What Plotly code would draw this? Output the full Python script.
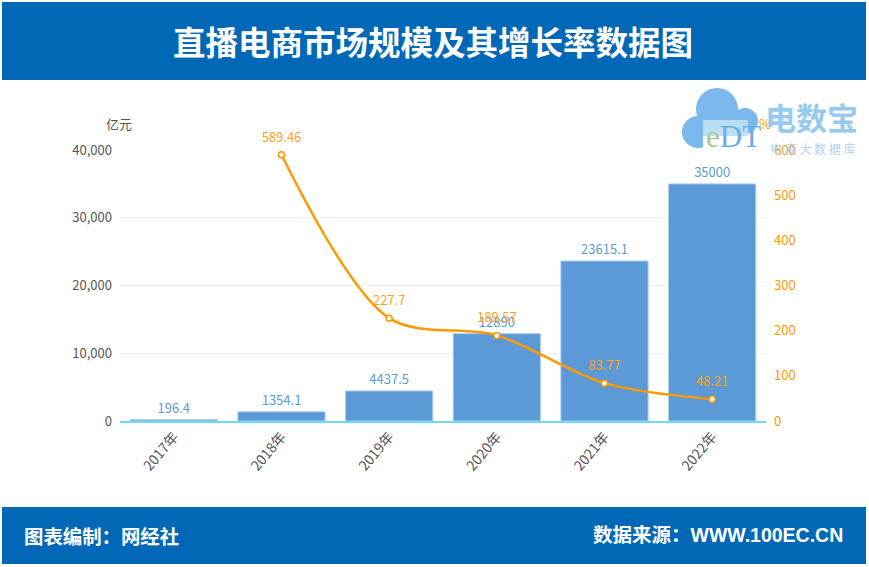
import plotly.graph_objects as go

# Live-streaming e-commerce market size and growth rate
years = ['2017年', '2018年', '2019年', '2020年', '2021年', '2022年']
market_size = [196.4, 1354.1, 4437.5, 12890, 23615.1, 35000]
growth_rate = [None, 589.46, 227.7, 189.57, 83.77, 48.21]
left_ticks = [0, 10000, 20000, 30000, 40000]
right_ticks = [0, 100, 200, 300, 400, 500, 600]

W, H = 869, 567
CJK = 'Noto Sans CJK SC'
HEAD = 'Liberation Sans, Noto Sans CJK SC'


def px(x):
    return x / W


def py(y):
    return 1 - y / H


def rect(x0, y0, x1, y1, color, layer='below'):
    return dict(type='rect', xref='paper', yref='paper', x0=px(x0), x1=px(x1), y0=py(y0), y1=py(y1),
                fillcolor=color, line_width=0, layer=layer)


def circle(cx, cy, r, color, opacity=1):
    return dict(type='circle', xref='paper', yref='paper', x0=px(cx - r), x1=px(cx + r), y0=py(cy + r), y1=py(cy - r),
                fillcolor=color, line_width=0, layer='above', opacity=opacity)


def label(x, y, text, size, color, family=CJK, weight=400, anchor='center', opacity=1):
    return dict(xref='paper', yref='paper', x=px(x), y=py(y), text=text, showarrow=False, xanchor=anchor,
                yanchor='middle', opacity=opacity, font=dict(size=size, color=color, family=family, weight=weight))


fig = go.Figure()

fig.add_trace(go.Bar(
    x=years, y=market_size, yaxis='y', width=0.81,
    marker=dict(color='#5b9ad6', line=dict(color='#a9cdec', width=1)),
    text=[str(v) for v in market_size], textposition='outside', cliponaxis=False,
    textfont=dict(size=13, color='#5b9bd5', family=CJK),
))

fig.add_trace(go.Scatter(
    x=years, y=growth_rate, yaxis='y2', mode='lines+markers',
    line=dict(color='#ff9900', width=2.5, shape='spline', smoothing=0.9),
    marker=dict(size=6, color='white', line=dict(color='#ff9900', width=1.5)),
    cliponaxis=False,
))

# labels in their own trace: the clear marker lifts them further off the line
fig.add_trace(go.Scatter(
    x=years, y=growth_rate, yaxis='y2', mode='markers+text',
    marker=dict(size=14, color='rgba(0,0,0,0)'),
    text=[None if v is None else str(v) for v in growth_rate], textposition='top center',
    textfont=dict(size=13, color='#ff9f1c', family=CJK), cliponaxis=False,
))

# header, footer and the logo stamped over the corner
shapes = [
    rect(2, 2, 866, 80, '#0168b7'),
    rect(2, 507, 866, 564, '#0168b7'),
    circle(698, 132, 16, '#7ab8ee'),
    circle(717, 109, 21, '#7ab8ee'),
    circle(745, 121, 13, '#7ab8ee'),
    rect(703, 120, 748, 136, 'rgba(190,222,246,0.95)', layer='above'),
    rect(703, 136, 762, 156, 'rgba(255,255,255,0.95)', layer='above'),
]

annotations = [
    label(433, 41, '直播电商市场规模及其增长率数据图', 32.5, 'white', weight=700),
    label(22, 535, '图表编制：网经社', 19.4, 'white', weight=700, anchor='left'),
    label(845, 535, '数据来源：WWW.100EC.CN', 19.5, 'white', family=HEAD, weight=700, anchor='right'),
    label(119, 123, '亿元', 13, '#555555'),
    label(765, 123, '%', 13, '#ff9900'),
    label(733, 137, '<span style="color:#a9c98a">e</span>DT', 31, '#6aaee8', family='Liberation Serif'),
    label(811, 117, '电数宝', 31, '#8cc4f0', weight=700, opacity=0.9),
    label(812, 148, '电 商 大 数 据 库', 12, '#9cc9ee', opacity=0.8),
]

fig.update_layout(
    width=W, height=H, margin=dict(l=0, r=0, t=0, b=0, autoexpand=False),
    paper_bgcolor='white', plot_bgcolor='white', showlegend=False,
    xaxis=dict(domain=[px(120), px(766)], tickangle=-50, showgrid=False, showline=True, linecolor='#6fd8fb',
               linewidth=2, ticks='', tickfont=dict(size=14, color='#555555', family=CJK)),
    yaxis=dict(domain=[py(421), py(150)], range=[0, 40000], tickvals=left_ticks, tickformat=',', gridcolor='#f0f0f0',
               zeroline=False, showline=False, ticks='', ticklabelstandoff=7,
               tickfont=dict(size=13, color='#555555', family=CJK)),
    yaxis2=dict(overlaying='y', side='right', range=[0, 600], tickvals=right_ticks, showgrid=False, zeroline=False,
                showline=False, ticks='', ticklabelstandoff=7, tickfont=dict(size=13, color='#ff9900', family=CJK)),
    shapes=shapes, annotations=annotations,
)

fig.write_html("out.html", config={'displayModeBar': False}, post_script="document.body.style.margin='0';")
